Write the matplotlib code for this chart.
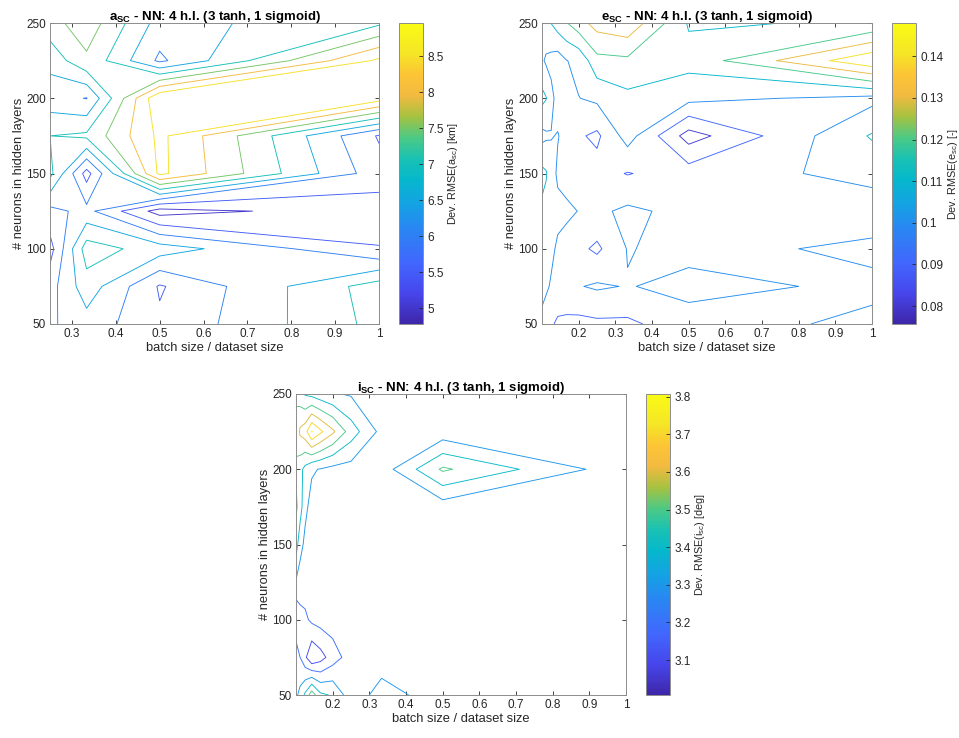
import matplotlib
matplotlib.use("Agg")
import matplotlib.pyplot as plt
import numpy as np
from matplotlib.colors import LinearSegmentedColormap, Normalize
from matplotlib.cm import ScalarMappable

plt.rcParams['font.family'] = ['Liberation Sans', 'DejaVu Sans']
plt.rcParams['mathtext.fontset'] = 'custom'
plt.rcParams['mathtext.rm'] = 'Liberation Sans'
plt.rcParams['mathtext.bf'] = 'Liberation Sans:bold'
plt.rcParams['mathtext.it'] = 'Liberation Sans:italic'

# parula-like colormap
parula = LinearSegmentedColormap.from_list("parula", [
    (0.00, (0.2422, 0.1504, 0.6603)),
    (0.10, (0.2775, 0.2727, 0.9228)),
    (0.20, (0.2586, 0.3995, 0.9942)),
    (0.32, (0.1600, 0.5300, 0.9500)),
    (0.40, (0.0800, 0.6400, 0.8900)),
    (0.48, (0.0200, 0.7200, 0.8000)),
    (0.55, (0.1000, 0.7600, 0.7000)),
    (0.62, (0.3000, 0.7900, 0.5200)),
    (0.69, (0.6500, 0.7600, 0.2500)),
    (0.76, (0.9500, 0.7300, 0.2500)),
    (0.83, (0.9900, 0.7700, 0.2100)),
    (0.90, (0.9600, 0.9000, 0.1500)),
    (1.00, (0.9769, 0.9839, 0.0805)),
])

neurons = [50, 75, 100, 125, 150, 175, 200, 225, 250]

# batch size / dataset size
ratio_a = [0.25, 1 / 3, 0.5, 1.0]
ratio_ei = [0.1, 1 / 9, 0.125, 1 / 7, 1 / 6, 0.2, 0.25, 1 / 3, 0.5, 1.0]

# rows: neurons 50 -> 250
rmse_a = [
    [5.92, 6.30, 5.58, 7.16],
    [5.80, 6.78, 5.45, 7.25],
    [5.30, 7.25, 6.75, 5.52],
    [5.85, 6.15, 4.78, 5.30],
    [7.15, 5.30, 8.62, 5.70],
    [7.00, 7.10, 8.62, 5.45],
    [6.20, 5.98, 8.96, 8.75],
    [6.67, 7.40, 5.90, 8.60],
    [7.30, 7.80, 6.30, 6.90],
]

rmse_e = [
    [0.0965, 0.0950, 0.0915, 0.0880, 0.0870, 0.0870, 0.0880, 0.0880, 0.0960, 0.1020],
    [0.1040, 0.1015, 0.0990, 0.0980, 0.0990, 0.0995, 0.1013, 0.0995, 0.1030, 0.0980],
    [0.1060, 0.1040, 0.1020, 0.0985, 0.0970, 0.0925, 0.0880, 0.1005, 0.0970, 0.1020],
    [0.1080, 0.1060, 0.1040, 0.1025, 0.1015, 0.0998, 0.0980, 0.1020, 0.0970, 0.0950],
    [0.1130, 0.1110, 0.1040, 0.0985, 0.0970, 0.0950, 0.0940, 0.0895, 0.0950, 0.1030],
    [0.0970, 0.0985, 0.0995, 0.1005, 0.0970, 0.0913, 0.0880, 0.1043, 0.0757, 0.1110],
    [0.1130, 0.1105, 0.1030, 0.0962, 0.0970, 0.0998, 0.1020, 0.1075, 0.1030, 0.0970],
    [0.1015, 0.0985, 0.0970, 0.0950, 0.0997, 0.1024, 0.1170, 0.1180, 0.1135, 0.1480],
    [0.1050, 0.1070, 0.1102, 0.1150, 0.1195, 0.1260, 0.1340, 0.1375, 0.1090, 0.1110],
]

rmse_i = [
    [3.28, 3.33, 3.42, 3.56, 3.42, 3.39, 3.24, 3.34, 3.25, 3.25],
    [3.28, 3.20, 3.12, 3.007, 3.06, 3.15, 3.25, 3.25, 3.25, 3.25],
    [3.095, 3.16, 3.18, 3.22, 3.24, 3.25, 3.25, 3.25, 3.25, 3.25],
    [3.29, 3.26, 3.25, 3.25, 3.25, 3.25, 3.25, 3.25, 3.25, 3.25],
    [3.45, 3.33, 3.28, 3.26, 3.25, 3.25, 3.25, 3.25, 3.25, 3.25],
    [3.52, 3.45, 3.32, 3.27, 3.26, 3.25, 3.25, 3.25, 3.25, 3.25],
    [3.49, 3.43, 3.37, 3.31, 3.295, 3.27, 3.26, 3.25, 3.515, 3.24],
    [3.52, 3.62, 3.66, 3.807, 3.72, 3.62, 3.45, 3.27, 3.24, 3.25],
    [3.49, 3.44, 3.39, 3.37, 3.34, 3.31, 3.29, 3.26, 3.25, 3.25],
]

levels_a = [5.0, 5.5, 6.0, 6.5, 7.0, 7.5, 8.0, 8.5]
levels_e = [0.08, 0.09, 0.10, 0.11, 0.12, 0.13, 0.14]
levels_i = [3.1, 3.2, 3.3, 3.4, 3.5, 3.6, 3.7, 3.8]

ticks_a = [5, 5.5, 6, 6.5, 7, 7.5, 8, 8.5]
ticks_e = [0.08, 0.09, 0.1, 0.11, 0.12, 0.13, 0.14]
ticks_i = [3.1, 3.2, 3.3, 3.4, 3.5, 3.6, 3.7, 3.8]

xt_a = [0.3, 0.4, 0.5, 0.6, 0.7, 0.8, 0.9, 1.0]
xt_ei = [0.2, 0.3, 0.4, 0.5, 0.6, 0.7, 0.8, 0.9, 1.0]
yt = [50, 100, 150, 200, 250]

W, H = 959, 738
fig = plt.figure(figsize=(W / 100, H / 100), dpi=100)
grey = (0.15, 0.15, 0.15)
edge = (0.55, 0.55, 0.55)


def fmt(v):
    return '%g' % v


def panel(rect, crect, x, z, levels, cticks, xticks, title, clabel):
    ax = fig.add_axes(rect)
    cax = fig.add_axes(crect)
    z = np.array(z)
    X, Y = np.meshgrid(x, neurons)
    norm = Normalize(vmin=z.min(), vmax=z.max())
    lv = [l for l in levels if z.min() < l < z.max()]
    ax.contour(X, Y, z, levels=lv, cmap=parula, norm=norm, linewidths=0.65)
    ax.set_xlim(min(x), 1)
    ax.set_ylim(50, 250)
    ax.set_xticks(xticks)
    ax.set_xticklabels([fmt(v) for v in xticks])
    ax.set_yticks(yt)
    ax.tick_params(direction='in', top=True, right=True, labelsize=8.5,
                   colors=grey, length=3, width=0.6, pad=3)
    for s in ax.spines.values():
        s.set_color(edge)
        s.set_linewidth(0.7)
    ax.set_xlabel('batch size / dataset size', fontsize=9.3, color=grey, labelpad=1)
    ax.set_ylabel('# neurons in hidden layers', fontsize=9.3, color=grey, labelpad=1)
    ax.set_title(title, fontsize=9.5, fontweight='bold', pad=2)

    sm = ScalarMappable(norm=norm, cmap=parula)
    cb = fig.colorbar(sm, cax=cax)
    cb.set_ticks(cticks)
    cb.set_ticklabels([fmt(v) for v in cticks])
    cb.ax.tick_params(direction='in', labelsize=8.5, colors=grey, length=3,
                      width=0.6, pad=3)
    cb.outline.set_edgecolor(edge)
    cb.outline.set_linewidth(0.7)
    cb.set_label(clabel, fontsize=7.8, color=grey, labelpad=2)
    return ax


def r(l, t, w, h):
    return [l / W, 1 - (t + h) / H, w / W, h / H]


panel(r(50, 23, 329, 301), r(399, 23, 24, 301), ratio_a, rmse_a, levels_a, ticks_a,
      xt_a, r'$\mathbf{a_{SC}}$ - NN: 4 h.l. (3 tanh, 1 sigmoid)',
      r'Dev. RMSE(a$_{\rm sc}$) [km]')
panel(r(542, 23, 330, 301), r(892, 23, 24, 301), ratio_ei, rmse_e, levels_e, ticks_e,
      xt_ei, r'$\mathbf{e_{SC}}$ - NN: 4 h.l. (3 tanh, 1 sigmoid)',
      r'Dev. RMSE(e$_{\rm sc}$) [-]')
panel(r(296, 394, 330, 301), r(646, 394, 24, 301), ratio_ei, rmse_i, levels_i, ticks_i,
      xt_ei, r'$\mathbf{i_{SC}}$ - NN: 4 h.l. (3 tanh, 1 sigmoid)',
      r'Dev. RMSE(i$_{\rm sc}$) [deg]')

fig.savefig('out.png', dpi=100)
